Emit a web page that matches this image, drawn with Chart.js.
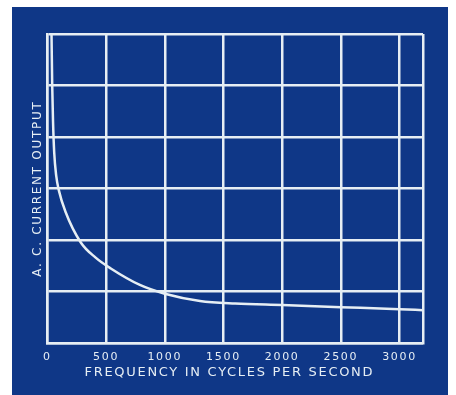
<!DOCTYPE html>
<html>
<head>
<meta charset="utf-8">
<script src="https://cdn.jsdelivr.net/npm/chart.js@4"></script>
<style>
    html, body { margin: 0; padding: 0; background: #ffffff; }
    body { width: 456px; height: 395px; position: relative; overflow: hidden; }
    #panel {
        position: absolute;
        left: 12px; top: 7px;
        width: 436px; height: 388px;
        background: #0f3787;
    }
</style>
</head>
<body>
<div id="panel"><canvas id="freqChart"></canvas></div>
<script>
// Frequency (cycles per second)
const frequency = [35, 41, 48, 58, 75, 97, 154, 283, 411, 540, 788, 1000, 1300, 1600, 2000, 2500, 3000, 3200];
// A.C. current output (grid units, no scale printed)
const currentOutput = [6.0, 5.0, 4.3, 3.7, 3.25, 2.97, 2.55, 1.96, 1.66, 1.45, 1.13, 0.96, 0.82, 0.77, 0.74, 0.70, 0.66, 0.64];
const xTickLabels = [0, 500, 1000, 1500, 2000, 2500, 3000];
const xMax = 3200;

const gridWhite = '#e6eef4';

// letter-spaced lettering like the printed figure
const spacing = {
    id: 'spacing',
    beforeDraw(chart) {
        chart.ctx.letterSpacing = '1.7px';
    }
};

const ctx = document.getElementById('freqChart').getContext('2d');
new Chart(ctx, {
    type: 'scatter',
    data: {
        datasets: [{
            data: frequency.map((f, i) => ({ x: f, y: currentOutput[i] })),
            showLine: true,
            borderColor: gridWhite,
            borderWidth: 2.5,
            pointRadius: 0,
            cubicInterpolationMode: 'monotone',
            fill: false
        }]
    },
    options: {
        responsive: true,
        maintainAspectRatio: false,
        animation: false,
        layout: {
            padding: { left: 17, top: 27, right: 25, bottom: 15 }
        },
        plugins: {
            legend: { display: false },
            tooltip: { enabled: false }
        },
        scales: {
            x: {
                type: 'linear',
                min: 0,
                max: xMax,
                afterBuildTicks: (scale) => {
                    // gridlines every 500 plus the closing edge
                    scale.ticks = xTickLabels.concat([xMax]).map(v => ({ value: v }));
                },
                ticks: {
                    padding: 7,
                    maxRotation: 0,
                    autoSkip: false,
                    color: gridWhite,
                    font: { family: 'DejaVu Sans', size: 11 },
                    callback: (v) => xTickLabels.includes(v) ? String(v) : ''
                },
                grid: {
                    color: gridWhite,
                    lineWidth: 2.5,
                    drawTicks: false
                },
                border: { color: gridWhite, width: 2.5 },
                title: {
                    display: true,
                    // trailing spaces nudge the centred title a little left, as printed
                    text: 'FREQUENCY IN CYCLES PER SECOND  ',
                    color: gridWhite,
                    padding: { top: -6, bottom: 0 },
                    font: { family: 'DejaVu Sans', size: 13 }
                }
            },
            y: {
                min: 0,
                max: 6,
                ticks: { display: false, stepSize: 1 },
                grid: {
                    color: gridWhite,
                    lineWidth: 2.5,
                    drawTicks: false
                },
                border: { color: gridWhite, width: 2.5 },
                title: {
                    display: true,
                    text: 'A. C. CURRENT OUTPUT',
                    color: gridWhite,
                    padding: { top: 2, bottom: 2 },
                    font: { family: 'DejaVu Sans', size: 12 }
                }
            }
        }
    },
    plugins: [spacing]
});
</script>
</body>
</html>
